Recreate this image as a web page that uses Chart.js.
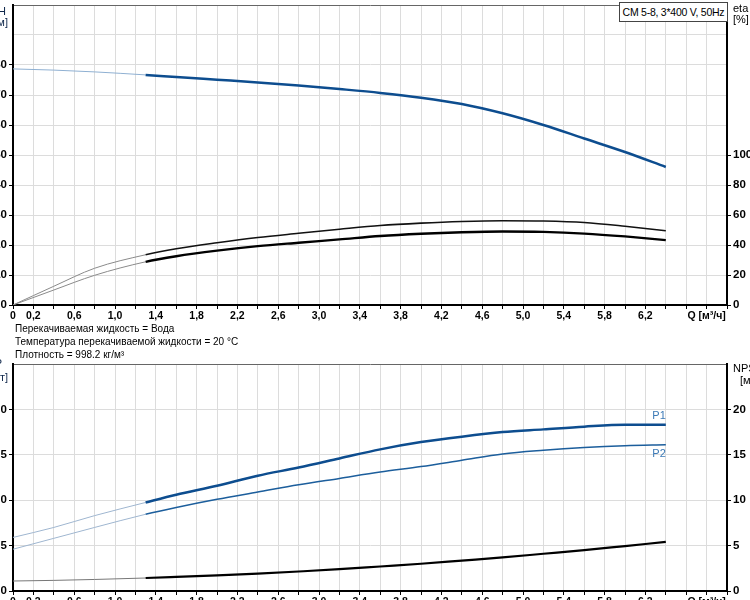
<!DOCTYPE html>
<html>
<head>
<meta charset="utf-8">
<script src="https://cdn.jsdelivr.net/npm/chart.js@4/dist/chart.umd.min.js"></script>
<style>
    body { margin: 0; width: 750px; height: 600px; overflow: hidden; position: relative; background: #fff;
        font-family: "Liberation Sans", Arial, sans-serif; }
    canvas { position: absolute; left: -27px; }
    #top-chart { top: 0; }
    #bottom-chart { top: 359px; }
    .txt { position: absolute; font-size: 11px; line-height: 11px; color: #000; white-space: nowrap; }
    .info { left: 15px; font-size: 10px; line-height: 10px; }
    #model { left: 619px; top: 2px; width: 107px; height: 18px; border: 1px solid #444; background: #fff;
        font-size: 10.5px; letter-spacing: -0.25px; line-height: 18px; text-align: center; }
</style>
</head>
<body>
<canvas id="top-chart" width="794" height="325"></canvas>
<canvas id="bottom-chart" width="794" height="252"></canvas>

<div class="txt" style="right:744px;top:6px;color:#10284c">H</div>
<div class="txt" style="right:742px;top:17px;color:#10284c">[м]</div>
<div class="txt" style="left:733px;top:3px">eta</div>
<div class="txt" style="left:733px;top:14px">[%]</div>
<div class="txt" style="right:748px;top:358px;color:#10284c">P</div>
<div class="txt" style="right:742px;top:372px;color:#10284c">[кВт]</div>
<div class="txt" style="left:733px;top:363px">NPSH</div>
<div class="txt" style="left:740px;top:375px">[м]</div>
<div id="model" class="txt">CM 5-8, 3*400 V, 50Hz</div>
<div class="txt info" style="top:324px">Перекачиваемая жидкость = Вода</div>
<div class="txt info" style="top:337px">Температура перекачиваемой жидкости = 20 °C</div>
<div class="txt info" style="top:350px">Плотность = 998.2 кг/м³</div>

<script>
// flow, m3/h
let Q = [0, 0.4, 0.8, 1.3, 1.6, 2.0, 2.4, 2.8, 3.2, 3.6, 4.0, 4.4, 4.8, 5.2, 5.6, 6.0, 6.4];
// head, m
let H = [78.7, 78.3, 77.7, 76.7, 76.0, 75.1, 74.2, 73.2, 72.0, 70.7, 69.1, 67.0, 63.9, 60.0, 55.5, 51.0, 46.0];
// efficiency, %
let etaPump = [0, 12.5, 24.5, 33.5, 37.5, 41.5, 45, 47.8, 50.5, 53, 54.6, 55.7, 56.2, 56.0, 55.0, 52.5, 49.5];
let etaTotal = [0, 10, 19.8, 28.8, 32.5, 36.2, 39.2, 41.5, 43.7, 46, 47.5, 48.5, 49, 48.7, 47.6, 45.7, 43.3];
// power, kW
let P1 = [0.59, 0.70, 0.83, 0.975, 1.06, 1.16, 1.27, 1.36, 1.46, 1.56, 1.64, 1.70, 1.75, 1.78, 1.81, 1.83, 1.83];
let P2 = [0.46, 0.58, 0.70, 0.845, 0.92, 1.01, 1.09, 1.17, 1.24, 1.31, 1.37, 1.44, 1.51, 1.55, 1.58, 1.60, 1.61];
// NPSH, m
let NPSH = [1.1, 1.17, 1.27, 1.43, 1.55, 1.72, 1.92, 2.15, 2.4, 2.7, 3.0, 3.35, 3.7, 4.1, 4.5, 4.95, 5.4];

let qMin = 1.3; // below this the curves are drawn thin

Chart.defaults.font.family = '"Liberation Sans", Arial, sans-serif';
Chart.defaults.font.size = 10;
Chart.defaults.color = '#000';

function pts(arr) {
    return Q.map(function (q, i) { return {x: q, y: arr[i]}; });
}

function curve(arr, axis, dark, light, width) {
    return {
        data: pts(arr),
        yAxisID: axis,
        borderColor: dark,
        borderWidth: width,
        pointRadius: 0,
        cubicInterpolationMode: 'monotone',
        segment: {
            borderColor: function (c) { return c.p0.parsed.x < qMin ? light : dark; },
            borderWidth: function (c) { return c.p0.parsed.x < qMin ? 1 : width; }
        }
    };
}

function comma(v) {
    return v === 0 ? '0' : v.toFixed(1).replace('.', ',');
}

function noPad(a) {
    a.paddingTop = 0;
    a.paddingBottom = 0;
    a.paddingLeft = 0;
    a.paddingRight = 0;
}

function xAxis() {
    return {
        type: 'linear', min: 0, max: 7,
        ticks: {
            stepSize: 0.2, autoSkip: false, maxRotation: 0, padding: 1,
            font: {weight: 'bold', size: 10.5},
            callback: function (v) {
                let r = Math.round(v * 10);
                if (r === 68) return 'Q [м³/ч]';
                if (r === 0 || (r % 4 === 2 && r <= 62)) return comma(r / 10);
                return '';
            }
        },
        grid: {color: '#dcdcdc', tickColor: '#000', tickLength: 4},
        border: {color: '#000', width: 2},
        afterFit: function (a) { a.height = 20; noPad(a); }
    };
}

function leftAxis(max, step, lastLabel, fmt) {
    return {
        position: 'left', min: 0, max: max,
        ticks: {
            stepSize: step, padding: 2, autoSkip: false, font: {weight: 'bold', size: 11.5},
            callback: function (v) { return v <= lastLabel + 1e-9 ? fmt(v) : ''; }
        },
        afterBuildTicks: function (a) {
            let t = [];
            for (let i = 0; i * step <= max + 1e-9; i++) t.push({value: Math.round(i * step * 10) / 10});
            a.ticks = t;
        },
        grid: {
            color: function (c) { return c.tick && Math.abs(c.tick.value - max) < 1e-9 ? '#666' : '#dcdcdc'; },
            tickColor: function (c) { return c.tick && c.tick.value <= lastLabel + 1e-9 ? '#000' : 'rgba(0,0,0,0)'; },
            tickLength: 4
        },
        border: {color: '#000', width: 2},
        afterFit: function (a) { a.width = 40; noPad(a); }
    };
}

function rightAxis(max, step, lastLabel) {
    return {
        position: 'right', min: 0, max: max,
        ticks: {stepSize: step, padding: 2, autoSkip: false, font: {weight: 'bold', size: 11.5}},
        afterBuildTicks: function (a) {
            a.ticks = a.ticks.filter(function (t) { return t.value <= lastLabel; });
        },
        grid: {drawOnChartArea: false, tickColor: '#000', tickLength: 4},
        border: {color: '#000', width: 2},
        afterFit: function (a) { a.width = 40; noPad(a); }
    };
}

let baseOptions = {
    responsive: false,
    animation: false,
    layout: {padding: {top: 5}},
    plugins: {legend: {display: false}, tooltip: {enabled: false}}
};

new Chart(document.getElementById('top-chart'), {
    type: 'line',
    data: {
        datasets: [
            curve(H, 'yH', '#0d4d8f', '#8fb0d2', 2.5),
            curve(etaPump, 'yEta', '#111', '#8a8a8a', 1.6),
            curve(etaTotal, 'yEta', '#000', '#8a8a8a', 2.3)
        ]
    },
    options: Object.assign({}, baseOptions, {
        scales: {
            x: xAxis(),
            yH: leftAxis(100, 10, 80, function (v) { return String(v); }),
            yEta: rightAxis(200, 20, 100)
        }
    })
});

// P1 / P2 names at the end of the power curves
let endLabels = {
    id: 'endLabels',
    afterDatasetsDraw: function (chart) {
        let c = chart.ctx;
        c.save();
        c.font = '11px "Liberation Sans", Arial, sans-serif';
        c.fillStyle = '#3c7ab6';
        c.textAlign = 'right';
        c.textBaseline = 'middle';
        let p1 = chart.getDatasetMeta(0).data[P1.length - 1];
        let p2 = chart.getDatasetMeta(1).data[P2.length - 1];
        c.fillText('P1', p1.x, p1.y - 9);
        c.fillText('P2', p2.x, p2.y + 9);
        c.restore();
    }
};

new Chart(document.getElementById('bottom-chart'), {
    type: 'line',
    data: {
        datasets: [
            curve(P1, 'yP', '#0d4d8f', '#9fb6d0', 2.5),
            curve(P2, 'yP', '#1c5e9c', '#9fb6d0', 1.5),
            curve(NPSH, 'yN', '#000', '#777', 2.2)
        ]
    },
    options: Object.assign({}, baseOptions, {
        scales: {
            x: xAxis(),
            yP: leftAxis(2.5, 0.5, 2.0, comma),
            yN: rightAxis(25, 5, 20)
        }
    }),
    plugins: [endLabels]
});
</script>
</body>
</html>
